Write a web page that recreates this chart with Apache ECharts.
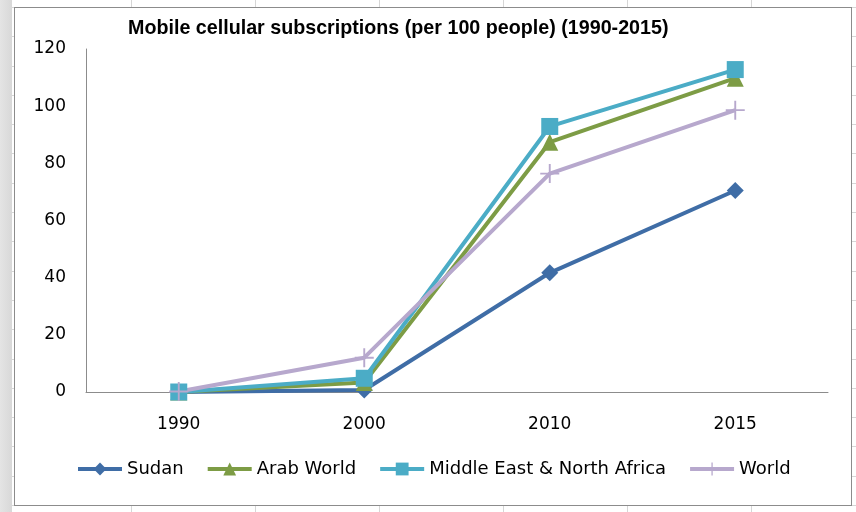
<!DOCTYPE html>
<html><head><meta charset="utf-8">
<script src="https://cdn.jsdelivr.net/npm/echarts@6/dist/echarts.min.js"></script>
<style>
html,body{margin:0;padding:0;width:856px;height:512px;overflow:hidden;}
#sheet{position:absolute;left:0;top:0;width:856px;height:512px;background-color:#fff;
 background-image:
  linear-gradient(to right, #e4e4e4 0px, #d8d8d8 12px, transparent 12px),
  repeating-linear-gradient(to right, #d6d6d6 0px, #d6d6d6 1px, transparent 1px, transparent 124px),
  repeating-linear-gradient(to bottom, #d6d6d6 0px, #d6d6d6 1px, transparent 1px, transparent 29.3px);
 background-position: 0 0, 7px 0, 0 7px;
}
#box{position:absolute;left:14px;top:7px;width:836px;height:497px;background:#fff;border:1px solid #8c8c8c;}
#chart{position:absolute;left:0;top:0;width:856px;height:512px;}
</style></head>
<body>
<div id="sheet"></div>
<div id="box"></div>
<div id="chart"></div>
<script>
const years = ['1990','2000','2010','2015'];
const sudan = [0, 0.7, 41.7, 70.5];
const arabWorld = [0, 3.3, 87.4, 109.8];
const mena = [0, 4.8, 92.9, 112.8];
const world = [0.2, 12.0, 76.4, 98.6];
const yTicks = [0, 20, 40, 60, 80, 100, 120];

const font = 'DejaVu Sans, Verdana, sans-serif';
const titleFont = 'Liberation Sans, Arial, sans-serif';
const plus = 'path://M9,0 L11,0 L11,9 L20,9 L20,11 L11,11 L11,20 L9,20 L9,11 L0,11 L0,9 L9,9 Z';
const chart = echarts.init(document.getElementById('chart'), null, {renderer:'canvas'});
function s(name, data, color, symbol, size){
  return {name, type:'line', data, symbol, symbolSize:size, showAllSymbol:true,
    lineStyle:{color, width:4}, itemStyle:{color}, animation:false};
}
chart.setOption({
  backgroundColor:'transparent',
  animation:false,
  title:{text:'Mobile cellular subscriptions (per 100 people) (1990-2015)', left:123, top:14,
    textStyle:{fontFamily:titleFont, fontWeight:'bold', fontSize:19.7, color:'#000'}},
  grid:{left:86, right:28, top:49, bottom:120, containLabel:false},
  legend:{bottom:29, left:71, itemWidth:44, itemHeight:16, itemGap:22,
    lineStyle:{width:4},
    textStyle:{fontFamily:font, fontSize:18, color:'#000'},
    data:['Sudan','Arab World','Middle East & North Africa','World']},
  xAxis:{type:'category', data:years, boundaryGap:true,
    axisLine:{lineStyle:{color:'#8c8c8c', width:1}}, axisTick:{show:false},
    axisLabel:{fontFamily:font, fontSize:17, color:'#000', margin:24}},
  yAxis:{type:'value', min:0, max:120, interval:20,
    axisLine:{show:true, lineStyle:{color:'#8c8c8c', width:1}}, axisTick:{show:false},
    splitLine:{show:false},
    axisLabel:{fontFamily:font, fontSize:17, color:'#000', margin:20,
      formatter:v=>yTicks.includes(v)?String(v):''}},
  series:[
    s('Sudan', sudan, '#3f6da6', 'diamond', 17),
    s('Arab World', arabWorld, '#7d9c45', 'triangle', 17),
    s('Middle East & North Africa', mena, '#4bacc6', 'rect', 17),
    s('World', world, '#b7a8cd', plus, 19)
  ]
});
</script>
</body></html>
